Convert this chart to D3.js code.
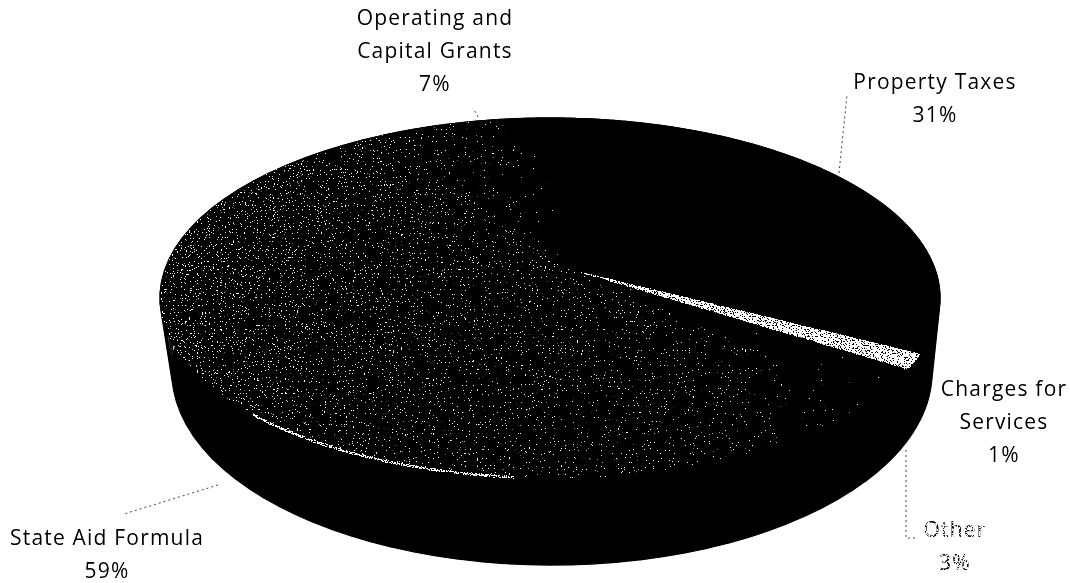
<!DOCTYPE html>
<html><head><meta charset="utf-8">
<script src="https://cdn.jsdelivr.net/npm/d3@7/dist/d3.min.js"></script>
<style>html,body{margin:0;background:#fff}svg{display:block}text{font-family:"Open Sans",sans-serif;font-size:21px;letter-spacing:1.2px;text-anchor:middle}</style>
</head><body><svg id="c" width="1070" height="583"></svg>
<script>
const categories=["Property Taxes","Charges for Services","Other","State Aid Formula","Operating and Capital Grants"];
const shares=[30.5,1.49,3.0,58.5,6.51];
const percentLabels=["31%","1%","3%","59%","7%"];
const labelLines=[["Property Taxes"],["Charges for","Services"],["Other"],["State Aid Formula"],["Operating and","Capital Grants"]];

const W=1070,H=583;
const topFace={cx:550,cy:298,rx:390,ry:180};
const base={cx:552,cy:372,rx:380,ry:193};
const apex=[565,268];
const svg=d3.select("#c");
const defs=svg.append("defs");
const f=defs.append("filter").attr("id","dither").attr("filterUnits","userSpaceOnUse")
 .attr("x",0).attr("y",0).attr("width",W).attr("height",H).attr("color-interpolation-filters","sRGB");
f.append("feTurbulence").attr("type","fractalNoise").attr("baseFrequency",0.75).attr("numOctaves",2).attr("seed",7).attr("result","n");
f.append("feColorMatrix").attr("in","n").attr("type","matrix").attr("values","1 0 0 0 0 1 0 0 0 0 1 0 0 0 0 0 0 0 0 1").attr("result","g");
f.append("feComposite").attr("in","SourceGraphic").attr("in2","g").attr("operator","arithmetic").attr("k1",0).attr("k2",1).attr("k3",1).attr("k4",-0.5).attr("result","m");
const ct=f.append("feComponentTransfer").attr("in","m").attr("result","t");
["feFuncR","feFuncG","feFuncB"].forEach(c=>ct.append(c).attr("type","linear").attr("slope",40).attr("intercept",-20));
f.append("feComposite").attr("in","t").attr("in2","SourceAlpha").attr("operator","in");

function grad(id,x1,y1,x2,y2,stops){
 const g=defs.append("linearGradient").attr("id",id).attr("gradientUnits","userSpaceOnUse")
  .attr("x1",x1).attr("y1",y1).attr("x2",x2).attr("y2",y2);
 stops.forEach(s=>g.append("stop").attr("offset",s[0]).attr("stop-color",s[1]));
}
grad("gState",160,280,880,420,[[0,"#565656"],[.3,"#4e4e4e"],[.8,"#484848"],[1,"#343434"]]);
grad("gOps",330,230,560,170,[[0,"#4e4e4e"],[.7,"#464646"],[1,"#343434"]]);
const fills=["#000","#9c9c9c","#2c2c2c","url(#gState)","url(#gOps)"];

const arcs=d3.pie().sort(null).value(d=>d).startAngle(-0.03).endAngle(2*Math.PI-0.03)(shares);
const rim=(e,a)=>[e.cx+e.rx*Math.sin(a),e.cy-e.ry*Math.cos(a)];
const samples=(a0,a1)=>d3.range(0,61).map(i=>a0+(a1-a0)*i/60);
const line=d3.line();
const g=svg.append("g").attr("filter","url(#dither)");
g.selectAll("path.wall").data(arcs).join("path").attr("class","wall").attr("fill","#000").attr("stroke","#000").attr("stroke-width",1.5)
 .attr("d",d=>{const s=samples(d.startAngle,d.endAngle);
   return d3.pairs(s).map(p=>line([rim(topFace,p[0]),rim(topFace,p[1]),rim(base,p[1]),rim(base,p[0])])+"Z").join("");});
g.selectAll("path.face").data(arcs).join("path").attr("class","face").attr("fill",(d,i)=>fills[i])
 .attr("stroke",(d,i)=>i==1?"none":fills[i]).attr("stroke-width",1)
 .attr("d",d=>line([apex].concat(samples(d.startAngle,d.endAngle).map(a=>rim(topFace,a))))+"Z");
g.append("path").datum(arcs[1]).attr("fill",fills[1])
 .attr("d",d=>line([apex].concat(samples(d.startAngle,d.endAngle).map(a=>rim(topFace,a))))+"Z");
const st=arcs[3], span=st.endAngle-st.startAngle;
g.append("path").attr("fill","none").attr("stroke","#8c8c8c").attr("stroke-width",3)
 .attr("d",line(samples(st.startAngle+span*.29,st.startAngle+span*.50).map(a=>rim(topFace,a))));

const leaders=[[[839,173],[847,95]],[],[[906,450],[906,538],[915,538]],[[218,485],[124,514]],[[478,117],[473,108]]];
svg.selectAll("path.lead").data(leaders).join("path").attr("class","lead").attr("fill","none")
 .attr("stroke","#444").attr("stroke-width",1).attr("stroke-dasharray","2 3")
 .attr("d",d=>d.length?line(d):null);

const anchors=[[935,82],[1004,389],[955,530],[107,538],[435,18]];
const spacing=33;
const tg=svg.append("g").attr("filter","url(#dither)");
categories.forEach((c,i)=>{
 const lines=labelLines[i].concat(percentLabels[i]);
 const t=tg.append("text").style("fill",i==2?"#8a8a8a":"#222");
 lines.forEach((l,k)=>t.append("tspan").attr("x",anchors[i][0]).attr("y",anchors[i][1]+k*spacing+7).text(l));
});
</script></body></html>
